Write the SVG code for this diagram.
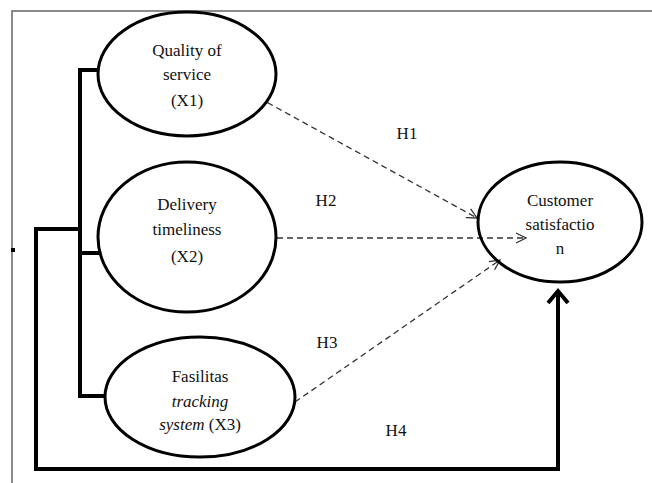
<svg xmlns="http://www.w3.org/2000/svg" width="652" height="483" viewBox="0 0 652 483">
<style>
text{font-size:17px;text-anchor:middle;fill:#111}
</style>
<rect width="652" height="483" fill="#fff"/>
<path d="M12,483 L12,11 L652,11" fill="none" stroke="#666" stroke-width="1.5"/>
<rect x="11" y="248" width="4" height="4" fill="#000"/>
<g id="connectors">
<path d="M98,70 L80,70 L80,396 L106,396 M80,253 L100,253 M80,229 L36,229 L36,469 L558,469 L558,292" fill="none" stroke="#000" stroke-width="4"/>
<path d="M548,303 L558,291 L568,303" fill="none" stroke="#000" stroke-width="4"/>
<path d="M250,93 L477,218 M277,238 L526,238 M295,402 L500,260" fill="none" stroke="#333" stroke-width="1.3" stroke-dasharray="6,4"/>
<path d="M470.65,208.8 L477,218 L465.83,217.56 M516,233 L526,238 L516,243 M488.94,261.58 L500,260 L494.63,269.8" fill="none" stroke="#333" stroke-width="1.3"/>
<text x="407" y="139" font-family="Liberation Serif">H1</text>
<text x="326" y="206" font-family="Liberation Serif">H2</text>
<text x="327" y="348" font-family="Liberation Serif">H3</text>
<text x="396" y="436" font-family="Liberation Serif">H4</text>
</g>
<g id="x1">
<ellipse cx="187" cy="74" rx="89" ry="62" fill="#fff" stroke="#000" stroke-width="3"/>
<text x="187" y="56" font-family="Liberation Serif">Quality of</text>
<text x="187" y="80" font-family="Liberation Serif">service</text>
<text x="187" y="106" font-family="Liberation Serif">(X1)</text>
</g>
<g id="x2">
<ellipse cx="187" cy="237" rx="89" ry="75" fill="#fff" stroke="#000" stroke-width="3"/>
<text x="187" y="210" font-family="Liberation Serif">Delivery</text>
<text x="187" y="235" font-family="Liberation Serif">timeliness</text>
<text x="187" y="262" font-family="Liberation Serif">(X2)</text>
</g>
<g id="x3">
<ellipse cx="200" cy="397" rx="95" ry="60" fill="#fff" stroke="#000" stroke-width="3"/>
<text x="200" y="382" font-family="Liberation Serif">Fasilitas</text>
<text x="200" y="407" font-family="Liberation Serif" font-style="italic">tracking</text>
<text x="200" y="430" font-family="Liberation Serif"><tspan font-style="italic">system</tspan> (X3)</text>
</g>
<g id="y">
<ellipse cx="560" cy="222" rx="82" ry="60" fill="none" stroke="#000" stroke-width="3"/>
<text x="560" y="206" font-family="Liberation Serif">Customer</text>
<text x="560" y="230" font-family="Liberation Serif">satisfactio</text>
<text x="560" y="254" font-family="Liberation Serif">n</text>
</g>
</svg>
